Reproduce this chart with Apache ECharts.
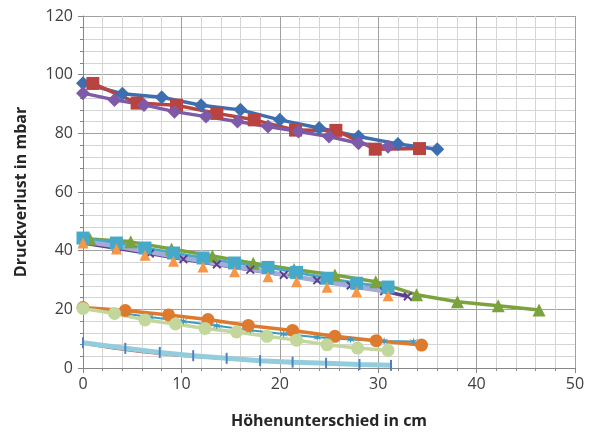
<!DOCTYPE html>
<html>
<head>
<meta charset="utf-8">
<script src="https://cdn.jsdelivr.net/npm/echarts@6/dist/echarts.min.js"></script>
<style>html,body{margin:0;padding:0;background:#fff}#c{width:598px;height:438px}</style>
</head>
<body>
<div id="c"></div>
<script>
// ---- data ----
const xTicks = [0, 10, 20, 30, 40, 50];
const yTicks = [0, 20, 40, 60, 80, 100, 120];

// top cluster
const blueDiamondX = [0, 4, 8, 12, 16, 20, 24, 28, 32, 36];
const blueDiamondY = [97.1, 93.5, 92.3, 89.6, 88.0, 84.6, 81.8, 78.9, 76.4, 74.6];
const redSquareX = [1, 5.5, 9.5, 13.6, 17.4, 21.6, 25.7, 29.7, 34.2];
const redSquareY = [97.0, 90.3, 89.6, 86.8, 84.6, 81.1, 81.0, 74.6, 74.8];
const purpleDiamondX = [0, 3.2, 6.2, 9.3, 12.5, 15.7, 18.8, 21.9, 25, 28, 31];
const purpleDiamondY = [93.7, 91.4, 89.7, 87.4, 85.7, 84.0, 82.3, 80.6, 78.9, 76.6, 75.4];

// middle cluster
const greenTriX = [0.7, 4.85, 9.0, 13.15, 17.3, 21.45, 25.6, 29.75, 33.9, 38.05, 42.2, 46.35];
const greenTriY = [44.0, 43.0, 40.6, 38.2, 35.7, 33.6, 31.7, 29.4, 25.0, 22.6, 21.2, 19.8];
const purpleXX = [0, 3.4, 6.8, 10.2, 13.6, 17, 20.4, 23.8, 27.2, 30.6, 33];
const purpleXY = [42.6, 40.8, 39.0, 37.1, 35.3, 33.5, 31.7, 29.9, 28.1, 26.2, 24.4];
const cyanSquareX = [0, 3.4, 6.3, 9.2, 12.2, 15.4, 18.8, 21.7, 24.8, 27.8, 31];
const cyanSquareY = [44.3, 42.6, 40.9, 39.2, 37.5, 35.8, 34.3, 32.6, 30.6, 28.9, 27.6];
const lavenderX = [0, 3.4, 6.3, 9.2, 12.2, 15.4, 18.8, 21.7, 24.8, 27.8, 31];
const lavenderY = [43.2, 41.5, 39.8, 38.1, 36.4, 34.6, 32.7, 31.0, 29.3, 27.6, 26.0];
const orangeTriX = [0, 3.4, 6.3, 9.2, 12.2, 15.4, 18.8, 21.7, 24.8, 27.8, 31];
const orangeTriY = [42.6, 40.6, 38.4, 36.4, 34.4, 32.8, 31.1, 29.4, 27.5, 26.0, 24.6];

// lower cluster
const tealStarX = [0, 3.4, 6.8, 10.2, 13.6, 17, 20.4, 23.8, 27.2, 30.6, 33.6];
const tealStarY = [20.2, 18.9, 17.4, 15.9, 14.4, 12.9, 11.6, 10.5, 9.7, 9.2, 9.0];
const orangeCircleX = [0, 4.3, 8.7, 12.7, 16.8, 21.3, 25.6, 29.8, 34.4];
const orangeCircleY = [20.6, 19.6, 18.1, 16.5, 14.5, 12.8, 10.8, 9.3, 7.8];
const lightGreenX = [0, 3.2, 6.3, 9.4, 12.4, 15.6, 18.7, 21.7, 24.8, 27.9, 31];
const lightGreenY = [20.3, 18.6, 16.4, 15.0, 13.5, 12.3, 10.8, 9.5, 7.9, 6.8, 6.0];

// bottom cluster
const redThinX = [0, 3, 6, 9, 12, 15, 18, 21, 24];
const redThinY = [8.2, 6.6, 5.3, 4.3, 3.5, 2.9, 2.5, 2.1, 1.9];
const lightBlueX = [0, 4.3, 7.8, 11.2, 14.6, 18.0, 21.3, 24.7, 28.1, 31.3];
const lightBlueY = [8.6, 6.7, 5.3, 4.2, 3.3, 2.5, 2.0, 1.6, 1.2, 0.9];

// ---- chart ----
function zip(xs, ys) { return xs.map((x, i) => [x, ys[i]]); }
const xMark = 'path://M0,1.5L1.5,0L5,3.5L8.5,0L10,1.5L6.5,5L10,8.5L8.5,10L5,6.5L1.5,10L0,8.5L3.5,5Z';
const starMark = 'path://M5,0L6,3.5L9.5,1.5L7,5L9.5,8.5L6,6.5L5,10L4,6.5L0.5,8.5L3,5L0.5,1.5L4,3.5Z';

function ser(xs, ys, color, symbol, size, lineW, extra) {
  return Object.assign({
    type: 'line', data: zip(xs, ys), symbol: symbol, symbolSize: size,
    showAllSymbol: true, animation: false,
    lineStyle: { color: color, width: lineW },
    itemStyle: { color: color, borderWidth: 0 }
  }, extra || {});
}

const fontFam = '"Open Sans", "Liberation Sans", sans-serif';
const chart = echarts.init(document.getElementById('c'), null, { renderer: 'canvas' });
chart.setOption({
  backgroundColor: '#ffffff',
  animation: false,
  grid: { left: 83, right: 23, top: 16, bottom: 70 },
  xAxis: {
    type: 'value', min: xTicks[0], max: xTicks[xTicks.length - 1], interval: 10,
    name: 'Höhenunterschied in cm', nameLocation: 'middle', nameGap: 45,
    nameTextStyle: { fontFamily: fontFam, fontSize: 16, fontWeight: 'bold', color: '#262626' },
    axisLine: { lineStyle: { color: '#868686', width: 1 } },
    axisTick: { show: true, length: 5, lineStyle: { color: '#868686' } },
    minorTick: { show: true, splitNumber: 5, length: 3, lineStyle: { color: '#868686' } },
    axisLabel: { fontFamily: fontFam, fontSize: 16, color: '#404040', margin: 8 },
    splitLine: { show: true, lineStyle: { color: '#A0A0A0', width: 1 } },
    minorSplitLine: { show: true, lineStyle: { color: '#D4D4D4', width: 1 } }
  },
  yAxis: {
    type: 'value', min: yTicks[0], max: yTicks[yTicks.length - 1], interval: 20,
    name: 'Druckverlust in mbar', nameLocation: 'middle', nameGap: 54,
    nameTextStyle: { fontFamily: fontFam, fontSize: 16, fontWeight: 'bold', color: '#262626' },
    axisLine: { show: true, lineStyle: { color: '#868686', width: 1 } },
    axisTick: { show: true, length: 5, lineStyle: { color: '#868686' } },
    minorTick: { show: true, splitNumber: 5, length: 3, lineStyle: { color: '#868686' } },
    axisLabel: { fontFamily: fontFam, fontSize: 16, color: '#404040', margin: 10 },
    splitLine: { show: true, lineStyle: { color: '#A0A0A0', width: 1 } },
    minorSplitLine: { show: true, lineStyle: { color: '#D4D4D4', width: 1 } }
  },
  series: [
    // bottom
    ser(redThinX, redThinY, '#C0504D', 'none', 0, 1.5),
    ser(lightBlueX, lightBlueY, '#93CDDD', 'rect', [2, 11], 5, { itemStyle: { color: '#4F81BD' } }),
    // lower
    ser(tealStarX, tealStarY, '#3D9BC0', starMark, 8, 2),
    ser(orangeCircleX, orangeCircleY, '#DE7A2E', 'circle', 13, 3.5),
    ser(lightGreenX, lightGreenY, '#C3D69B', 'circle', 13, 3.5),
    // middle
    ser(greenTriX, greenTriY, '#7AA33E', 'triangle', 13, 3.5),
    ser(purpleXX, purpleXY, '#5F3D8E', xMark, 9, 3.5),
    ser(cyanSquareX, cyanSquareY, '#47A9C9', 'rect', 13, 3),
    ser(lavenderX, lavenderY, '#A3ABD9', 'none', 0, 4.5),
    ser(orangeTriX, orangeTriY, '#F79646', 'triangle', 11, 0),
    // top
    ser(blueDiamondX, blueDiamondY, '#3D6EAF', 'diamond', 14, 3.5),
    ser(redSquareX, redSquareY, '#B8433F', 'rect', 13, 3.5),
    ser(purpleDiamondX, purpleDiamondY, '#7E5AA8', 'diamond', 14, 3.5)
  ]
});
</script>
</body>
</html>
